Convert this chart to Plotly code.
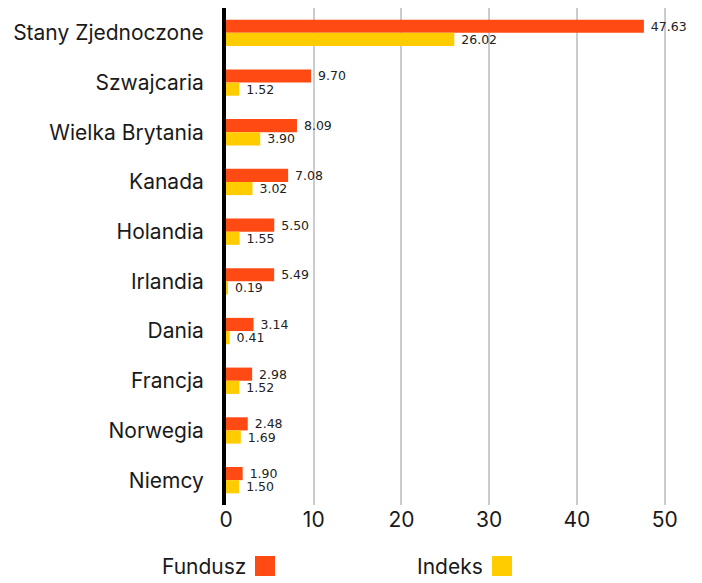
import plotly.graph_objects as go

categories = ["Stany Zjednoczone", "Szwajcaria", "Wielka Brytania", "Kanada", "Holandia",
              "Irlandia", "Dania", "Francja", "Norwegia", "Niemcy"]
fundusz = [47.63, 9.70, 8.09, 7.08, 5.50, 5.49, 3.14, 2.98, 2.48, 1.90]
indeks = [26.02, 1.52, 3.90, 3.02, 1.55, 0.19, 0.41, 1.52, 1.69, 1.50]
tick_vals = [0, 10, 20, 30, 40, 50]

ORANGE = "#FF4A14"
YELLOW = "#FFCC00"
FONT = "Inter"
LABEL_FONT = "DejaVu Sans"

# page body has an 8px default margin; compensate so plot sits where the reference does
W, H = 694, 575
L, T, R, B = 218, 0, 11, 78
PW, PH = W - L - R, H - T - B

fig = go.Figure()
for name, vals, col in [("Fundusz", fundusz, ORANGE), ("Indeks", indeks, YELLOW)]:
    fig.add_trace(go.Bar(
        y=categories, x=vals, orientation="h", name=name,
        marker=dict(color=col, line=dict(width=0)),
        text=["\u00a0" + f"{v:.2f}" for v in vals], textposition="outside",
        constraintext="none",
        textfont=dict(size=12.5, color="#222222", family=LABEL_FONT), cliponaxis=False,
    ))

fig.update_layout(
    width=W, height=H,
    margin=dict(l=L, r=R, t=T, b=B, autoexpand=False),
    paper_bgcolor="white", plot_bgcolor="white",
    barmode="group", bargap=0.47, bargroupgap=0,
    showlegend=False,
    font=dict(family=FONT, color="#1a1a1a"),
    xaxis=dict(range=[0, 53], tickvals=tick_vals, showgrid=True,
               gridcolor="#cccccc", gridwidth=2, zeroline=False,
               tickfont=dict(size=21, family=FONT, color="#1a1a1a"),
               showline=False, ticks="", automargin=False),
    yaxis=dict(categoryorder="array", categoryarray=categories,
               range=[9.5, -0.5],
               tickfont=dict(size=21, family=FONT, color="#1a1a1a"),
               ticklabelstandoff=14, showline=True, linecolor="black",
               linewidth=4, ticks="", showgrid=False, automargin=False),
)

# Legend (text + square swatch to the right), positions in page pixels
legend_items = [("Fundusz", ORANGE, 248, 255), ("Indeks", YELLOW, 485, 492)]
ox, oy = 8, 8
for name, col, text_right, sq_left in legend_items:
    fig.add_annotation(xref="paper", yref="paper", x=(text_right - ox - L) / PW,
                       y=-(566 - oy - (T + PH)) / PH, text=name,
                       showarrow=False, xanchor="right", yanchor="middle",
                       font=dict(size=21, family=FONT, color="#1a1a1a"))
    fig.add_shape(type="rect", xref="paper", yref="paper",
                  x0=(sq_left - ox - L) / PW, x1=(sq_left + 20 - ox - L) / PW,
                  y0=-(556 - oy - (T + PH)) / PH, y1=-(576 - oy - (T + PH)) / PH,
                  fillcolor=col, line=dict(width=0))

fig.write_html("out.html")
